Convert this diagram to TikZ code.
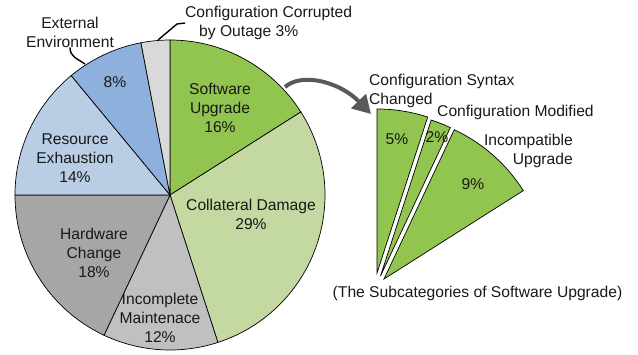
\documentclass[tikz,border=0pt]{standalone}
\usepackage{fontspec}
\setmainfont{Liberation Sans}
\usepackage{xcolor}
\usepackage{tikz}
\usetikzlibrary{arrows.meta,positioning}

\definecolor{swgreen}{HTML}{92C450}
\definecolor{cdgreen}{HTML}{C4D8A2}
\definecolor{imgray}{HTML}{C0C0C0}
\definecolor{hwgray}{HTML}{A6A6A6}
\definecolor{reblue}{HTML}{B9CDE5}
\definecolor{exblue}{HTML}{8EB0DC}
\definecolor{cogray}{HTML}{D9D9D9}
\definecolor{argray}{HTML}{595959}

\begin{document}
\begin{tikzpicture}[
    x=1bp, y=1bp,
    lbl/.style={inner sep=0pt, align=center, text=black!90, font=\fontsize{15.7}{19}\selectfont},
    sl/.style={draw=black, line width=0.7bp},
    sub/.style={draw=black, line width=0.7bp, fill=swgreen},
    lead/.style={line width=1.4bp},
    ar/.style={-{Triangle[length=18bp,width=20bp]}, line width=4bp, draw=argray}
  ]
    \useasboundingbox (0,0) rectangle (638,354);

    % the pie
    \coordinate (o) at (170,159);
    \foreach \a/\b/\c in {32.4/90/swgreen, -72/32.4/cdgreen, -115.2/-72/imgray,
                          -180/-115.2/hwgray, 129.6/180/reblue, 100.8/129.6/exblue, 90/100.8/cogray}
      \filldraw[sl, fill=\c] (o) -- ++(\a:155) arc[start angle=\a, end angle=\b, radius=155] -- cycle;

    \node[lbl] (sw) at (220,246) {Software\\Upgrade\\16\%};
    \node[lbl] (cd) at (251,140) {Collateral Damage\\29\%};
    \node[lbl] (im) at (160,36) {Incomplete\\Maintenace\\12\%};
    \node[lbl] (hw) at (94,101) {Hardware\\Change\\18\%};
    \node[lbl] (re) at (75,196) {Resource\\Exhaustion\\14\%};
    \node[lbl] (ex) at (115,272) {8\%};
    \node[lbl] (exname) at (70,322) {External\\Environment};
    \node[lbl, anchor=west, align=left] (co) at (185,331) {Configuration Corrupted\\\hspace*{14bp}by Outage 3\%};

    \coordinate (extip) at (85,290);
    \coordinate (cotip) at (158,314);
    \draw[lead] (exname.south) .. controls +(0,-9) and +(-9,6) .. (extip);
    \draw[lead] (cotip) -- (177,330) -- (co.west);

    % subcategories of software upgrade
    \coordinate (w1) at (377,81);
    \coordinate (w2) at (380.5,78);
    \coordinate (w3) at (384,75);
    \filldraw[sub] (w1) -- ++(72:164) arc[start angle=72, end angle=90, radius=164] -- cycle;
    \filldraw[sub] (w2) -- ++(64.8:164) arc[start angle=64.8, end angle=72, radius=164] -- cycle;
    \filldraw[sub] (w3) -- ++(32.4:165) arc[start angle=32.4, end angle=64.8, radius=165] -- cycle;

    \node[lbl] (p1) at (397,215) {5\%};
    \node[lbl] (p2) at (437,217) {2\%};
    \node[lbl] (p3) at (473,170) {9\%};
    \node[lbl, anchor=west, align=left] (s1) at (369,263.5) {Configuration Syntax\\Changed};
    \node[lbl, anchor=west] (s2) at (437,242) {Configuration Modified};
    \node[lbl, anchor=east, align=right] (s3) at (573,203) {Incompatible\\Upgrade};
    \node[lbl] (cap) at (477.5,61) {(The Subcategories of Software Upgrade)};

    \coordinate (swout) at (285,267);
    \coordinate (subin) at (371,240);
    \draw[ar] (swout) .. controls (302,282) and (340,272) .. (subin);
\end{tikzpicture}
\end{document}
